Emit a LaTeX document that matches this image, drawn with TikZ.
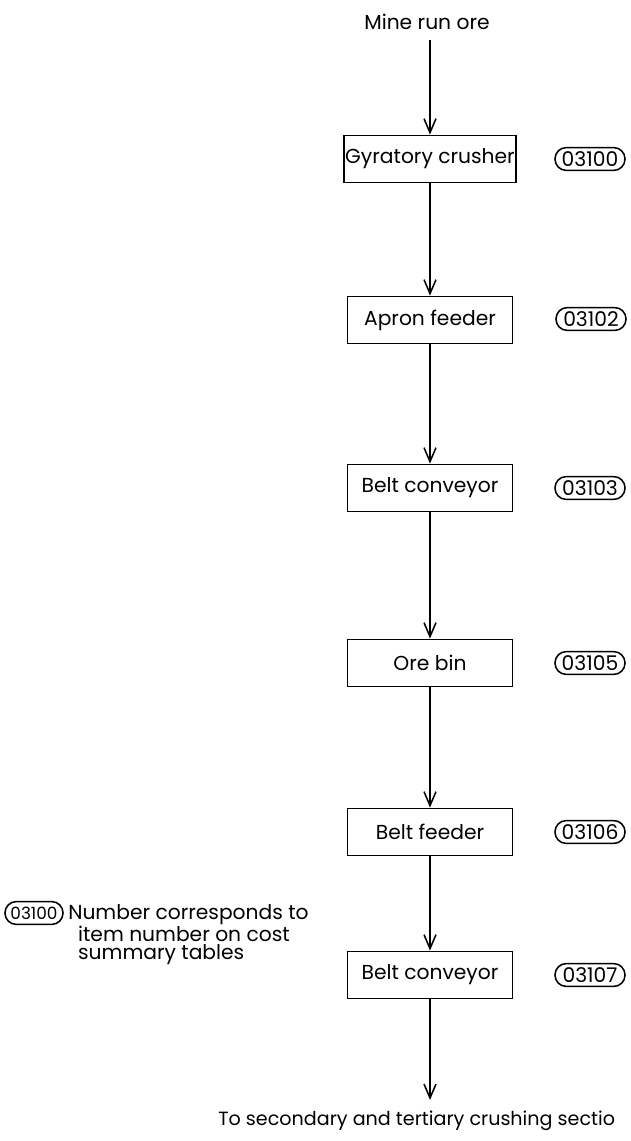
\documentclass[tikz,border=0pt]{standalone}
\usepackage{fontspec}
\setmainfont{Poppins}
\usetikzlibrary{arrows.meta,positioning}

\begin{document}
\begin{tikzpicture}[x=0.025cm, y=-0.025cm,
    unit/.style={rectangle, draw, line width=1.1pt, minimum width=4.12cm, minimum height=1.18cm, inner sep=1pt, font=\Large},
    tag/.style={rectangle, draw, line width=1.1pt, rounded corners=8pt, inner sep=1pt, minimum width=1.75cm, minimum height=0.57cm, font=\Large},
    flow/.style={line width=1.1pt, -{Straight Barb[length=3.5mm, width=3mm, line width=1.1pt]}}
]
\useasboundingbox (0,0) rectangle (630,1141);

% Units
\node[font=\Large] (ore) at (427,22) {Mine run ore};
\coordinate (oretop) at (430,40);
\node[unit] (crusher) at (430,159) {Gyratory crusher};
\node[unit] (apron) at (430,320) {Apron feeder};
\node[unit] (belt1) at (430,488) {Belt conveyor};
\node[unit] (bin) at (430,663) {Ore bin};
\node[unit] (feeder) at (430,832) {Belt feeder};
\node[unit] (belt2) at (430,975) {Belt conveyor};
\coordinate (out) at (430,1100);
\node[font={\fontsize{13.6}{15}\selectfont}, anchor=west, inner sep=0pt] (next) at (218,1121) {To secondary and tertiary crushing sectio};

% Item numbers
\node[tag] (t1) at (590,159) {03100};
\node[tag] (t2) at (591,319) {03102};
\node[tag] (t3) at (590,488) {03103};
\node[tag] (t4) at (590,663) {03105};
\node[tag] (t5) at (590,832) {03106};
\node[tag] (t6) at (590,975) {03107};

% Legend
\node[tag, minimum width=1.45cm, font=\large] (key) at (34,913) {03100};
\node[anchor=north west, align=left, font={\fontsize{14.4}{13.2}\selectfont}, inner sep=0pt] (keytext) at (68,904)
    {Number corresponds to\\\hspace{7pt}item number on cost\\\hspace{7pt}summary tables};

% Flow
\draw[flow] (oretop) -- (crusher);
\draw[flow] (crusher) -- (apron);
\draw[flow] (apron) -- (belt1);
\draw[flow] (belt1) -- (bin);
\draw[flow] (bin) -- (feeder);
\draw[flow] (feeder) -- (belt2);
\draw[flow] (belt2) -- (out);
\end{tikzpicture}
\end{document}
